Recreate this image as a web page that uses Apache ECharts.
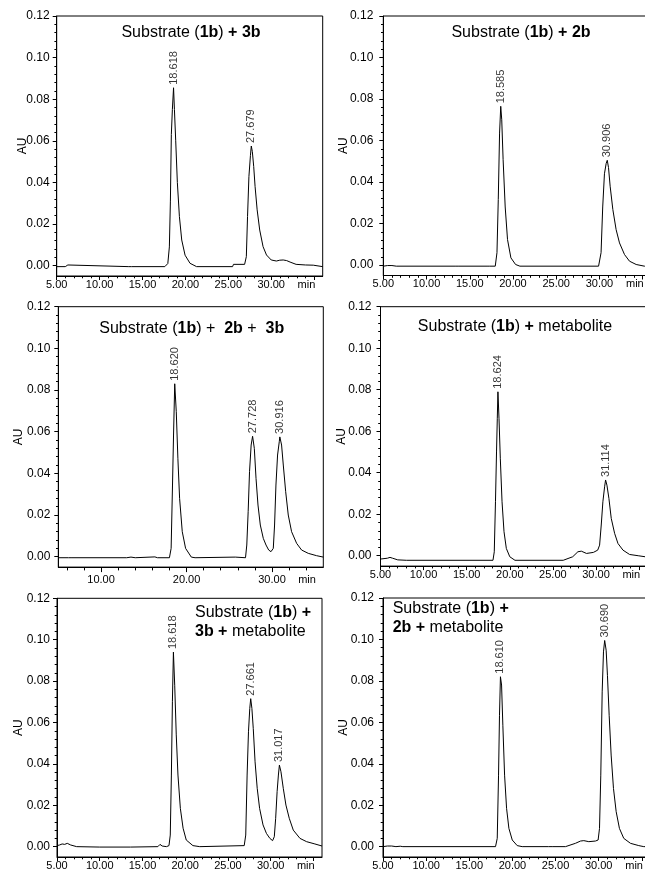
<!DOCTYPE html>
<html><head><meta charset="utf-8">
<script src="https://cdn.jsdelivr.net/npm/echarts@6/dist/echarts.min.js"></script>
<style>html,body{margin:0;padding:0;background:#fff}#c{width:645px;height:876px}</style>
</head><body><div id="c"></div>
<script>
// ---------- data (retention time in min, absorbance in AU) ----------
const p1_time = [5.0,6.0,6.3,6.5,13.4,13.55,13.7,17.6,17.95,18.13,18.25,18.36,18.48,18.618,18.72,18.87,19.06,19.3,19.57,19.96,20.54,21.3,25.5,25.6,26.9,27.1,27.24,27.4,27.58,27.679,27.8,27.96,28.12,28.36,28.66,29.05,29.45,30.0,30.6,31.0,31.4,31.8,32.2,32.9,34.0,34.9,35.1,36.0];
const p1_au   = [-0.0005,-0.0005,0.0003,-0.0005,-0.0005,0.0001,-0.0005,-0.0005,0.001,0.009,0.031,0.063,0.075,0.0855,0.075,0.060,0.040,0.0236,0.0123,0.005,0.0011,-0.0005,-0.0005,0.0006,0.0006,0.0043,0.0236,0.0428,0.0530,0.0575,0.0548,0.0476,0.038,0.0268,0.0171,0.0091,0.0051,0.0027,0.0022,0.0026,0.0027,0.0024,0.0017,0.0006,0.0003,0.0002,-0.0005,-0.0005];
const p1_peaks = [18.618, 27.679];

const p2_time = [5.0,5.5,6.0,6.5,13.4,13.5,13.65,17.0,17.1,17.25,17.95,18.15,18.3,18.45,18.585,18.7,18.86,19.1,19.37,19.76,20.3,20.8,29.9,30.0,30.19,30.38,30.58,30.78,30.906,31.05,31.24,31.55,31.93,32.32,32.9,33.48,34.25,35.2,36.0];
const p2_au   = [-0.0005,-0.0002,-0.0002,-0.0005,-0.0005,0.0001,-0.0005,-0.0005,0.0001,-0.0005,-0.0005,0.006,0.0316,0.0636,0.0765,0.070,0.0508,0.028,0.0123,0.0035,0.0003,-0.0005,-0.0005,0.0003,0.006,0.028,0.044,0.049,0.0505,0.047,0.038,0.0268,0.0171,0.0107,0.0051,0.0019,0.0003,-0.0005,-0.0005];
const p2_peaks = [18.585, 30.906];

const p3_time = [5.0,6.2,6.4,6.6,13.0,13.5,14.0,16.3,16.6,18.0,18.2,18.36,18.48,18.62,18.8,18.99,19.19,19.5,19.89,20.56,21.0,25.7,25.9,26.9,27.05,27.21,27.37,27.56,27.728,27.93,28.13,28.36,28.63,28.98,29.3,29.61,29.88,30.15,30.3,30.46,30.65,30.85,30.916,31.12,31.32,31.6,31.9,32.29,32.88,33.46,34.24,35.2,36.0];
const p3_au   = [-0.0005,-0.0005,0.0003,-0.0005,-0.0005,-0.0002,-0.0005,-0.0001,-0.0005,-0.0005,0.004,0.0344,0.0584,0.083,0.0696,0.047,0.028,0.012,0.004,-0.0002,-0.0005,-0.0002,-0.0005,-0.0005,0.0056,0.0216,0.0408,0.0536,0.0578,0.052,0.0376,0.0248,0.0152,0.0088,0.0056,0.0032,0.0024,0.004,0.0152,0.0344,0.0488,0.0552,0.0575,0.0536,0.044,0.0312,0.020,0.012,0.0064,0.0032,0.0016,0.0005,-0.0002];
const p3_peaks = [18.620, 27.728, 30.916];

const p4_time = [5.0,5.8,6.1,6.4,7.0,8.0,18.05,18.2,18.34,18.46,18.55,18.624,18.75,18.9,19.1,19.33,19.6,20.0,20.6,26.2,27.3,27.9,28.3,28.9,29.7,30.2,30.42,30.61,30.8,31.0,31.114,31.27,31.5,31.77,32.16,32.55,33.13,33.9,34.9,35.7,36.0];
const p4_au   = [-0.0016,-0.0012,-0.0008,-0.0012,-0.0020,-0.0022,-0.0022,0.0019,0.026,0.050,0.066,0.079,0.066,0.047,0.026,0.0116,0.0035,-0.0005,-0.0022,-0.0022,-0.0005,0.0019,0.0022,0.0011,0.0016,0.0027,0.0051,0.0148,0.026,0.0332,0.0365,0.034,0.0276,0.018,0.0108,0.0059,0.0027,0.0006,0.0,-0.0005,-0.0005];
const p4_peaks = [18.624, 31.114];

const p5_time = [5.0,5.3,5.6,5.9,6.2,6.4,6.6,7.3,10.0,13.6,16.8,17.05,17.3,17.8,18.1,18.25,18.38,18.5,18.618,18.77,18.95,19.15,19.43,19.75,20.12,20.9,21.7,26.9,27.08,27.24,27.4,27.55,27.661,27.8,27.96,28.17,28.42,28.7,29.1,29.5,29.9,30.22,30.42,30.58,30.75,30.9,31.017,31.2,31.47,31.78,32.17,32.64,33.42,34.2,35.17,36.0];
const p5_au   = [0.0005,0.0008,0.0013,0.0011,0.0016,0.0018,0.0008,0.0,-0.0002,-0.0002,0.0,0.0011,0.0003,0.0,0.0005,0.0056,0.0346,0.070,0.094,0.078,0.054,0.0346,0.0185,0.0089,0.0032,0.0005,0.0,0.0005,0.0056,0.0346,0.0555,0.0668,0.0715,0.0668,0.057,0.041,0.0282,0.0185,0.0105,0.0064,0.004,0.0029,0.0048,0.0137,0.0266,0.0346,0.0394,0.0362,0.0282,0.0201,0.0137,0.008,0.004,0.0024,0.0013,0.0003];
const p5_peaks = [18.618, 27.661, 31.017];

const p6_time = [5.0,5.5,6.0,6.5,7.0,7.3,18.04,18.24,18.39,18.5,18.61,18.74,18.89,19.09,19.32,19.59,19.98,20.55,21.13,24.2,24.4,24.6,26.15,26.34,27.3,27.89,28.27,28.85,29.62,29.93,30.09,30.24,30.4,30.55,30.69,30.86,31.01,31.21,31.44,31.71,32.02,32.4,32.9,33.68,34.64,35.22,36.0];
const p6_au   = [0.0,0.0003,0.0003,0.0,0.0002,0.0,0.0,0.004,0.0345,0.0634,0.082,0.078,0.0586,0.0345,0.0185,0.0088,0.0032,0.0005,0.0,0.0,0.0008,0.0,0.0,0.0005,0.0016,0.0027,0.0029,0.0024,0.0027,0.0032,0.0088,0.0345,0.0747,0.094,0.0995,0.0948,0.0827,0.0634,0.0442,0.0281,0.0169,0.0088,0.004,0.0016,0.0005,0.0,0.0];
const p6_peaks = [18.610, 30.690];

// ---------- axis ticks / labels ----------
const yTickValues = [0, 0.02, 0.04, 0.06, 0.08, 0.10, 0.12];
const xTickValues = [5, 10, 15, 20, 25, 30, 35];
const xLabelValues = [5, 10, 15, 20, 25, 30];
const xTickValues3 = [10, 20, 30];
const unitPos = 34.1;
const unitLabel = 'min';
const yName = 'AU';

// ---------- titles ----------
const p1_title = '{n|Substrate (}{b|1b}{n|) }{b|+ 3b}';
const p2_title = '{n|Substrate (}{b|1b}{n|) }{b|+ 2b}';
const p3_title = '{n|Substrate (}{b|1b}{n|) +  }{b|2b}{n| +  }{b|3b}';
const p4_title = '{n|Substrate (}{b|1b}{n|) }{b|+}{n| metabolite}';
const p5_title = '{n|Substrate (}{b|1b}{n|) }{b|+}\n{b|3b + }{n|metabolite}';
const p6_title = '{n|Substrate (}{b|1b}{n|) }{b|+}\n{b|2b + }{n|metabolite}';

const FONT = '"Liberation Sans", Arial, Helvetica, sans-serif';
const X_MIN = 5, X_MAX = 36, Y_MIN = -0.005, Y_MAX = 0.12;

// minor ticks
const yMinor = [];
for (let k = 1; k < 30; k++) if (k % 5) yMinor.push(+(k * 0.004).toFixed(3));
const xMinor = [];
for (let k = 6; k <= 35; k++) if (k % 5) xMinor.push(k);
const xMinor3 = [];
for (let k = 6; k <= 34; k += 2) if (k % 10) xMinor3.push(k);

const panels = [
  {time:p1_time, au:p1_au, peaks:p1_peaks, title:p1_title,
   grid:{left:56.7, top:16, width:266, height:260}, yLm:7, gap:28.5, xLm:3,
   xMaj:xTickValues, xLab:xLabelValues.concat([unitPos]), xMin:xMinor, tl:4, tm:2.3,
   tb:{x:191, y:32.5, center:true}},
  {time:p2_time, au:p2_au, peaks:p2_peaks, title:p2_title,
   grid:{left:383.3, top:16, width:268, height:259.5}, yLm:10, gap:33.5, xLm:3,
   xMaj:xTickValues, xLab:xLabelValues.concat([unitPos]), xMin:xMinor, tl:4, tm:2.3,
   tb:{x:521, y:32.5, center:true}},
  {time:p3_time, au:p3_au, peaks:p3_peaks, title:p3_title,
   grid:{left:58.3, top:306.7, width:265, height:260.4}, yLm:8, gap:33.5, xLm:7,
   xMaj:xTickValues3, xLab:xTickValues3.concat([unitPos]), xMin:xMinor3, tl:5, tm:3.3,
   tb:{x:191.7, y:328.5, center:true}},
  {time:p4_time, au:p4_au, peaks:p4_peaks, title:p4_title,
   grid:{left:380.5, top:306.7, width:267.2, height:259.4}, yLm:9, gap:33.3, xLm:3,
   xMaj:xTickValues, xLab:xLabelValues.concat([unitPos]), xMin:xMinor, tl:4, tm:2.3,
   tb:{x:515, y:327, center:true}},
  {time:p5_time, au:p5_au, peaks:p5_peaks, title:p5_title,
   grid:{left:57, top:598.3, width:265, height:258.7}, yLm:7, gap:32, xLm:3,
   xMaj:xTickValues, xLab:xLabelValues.concat([unitPos]), xMin:xMinor, tl:4, tm:2.3,
   tb:{x:195, y:622, center:false}},
  {time:p6_time, au:p6_au, peaks:p6_peaks, title:p6_title,
   grid:{left:383, top:598, width:267.5, height:259}, yLm:9, gap:33.2, xLm:3,
   xMaj:xTickValues, xLab:xLabelValues.concat([unitPos]), xMin:xMinor, tl:4, tm:2.3,
   tb:{x:392.7, y:618.3, center:false}}
];

const grids = [], xAxes = [], yAxes = [], series = [], graphics = [];
const black = '#000';

panels.forEach((p, i) => {
  grids.push(Object.assign({show:true, borderColor:black, borderWidth:1, backgroundColor:'transparent',
    containLabel:false, outerBoundsMode:'none'}, p.grid));

  xAxes.push({type:'value', gridIndex:i, position:'bottom', min:X_MIN, max:X_MAX,
    axisLine:{show:true, onZero:false, lineStyle:{color:black, width:1}},
    splitLine:{show:false},
    axisTick:{show:true, inside:false, length:p.tl, customValues:p.xMaj, lineStyle:{color:black, width:1}},
    axisLabel:{show:true, customValues:p.xLab, margin:p.xLm, color:black, fontSize:11, fontFamily:FONT,
      formatter:v => (v > 33 && v < 35) ? unitLabel : v.toFixed(2)}});
  xAxes.push({type:'value', gridIndex:i, position:'bottom', min:X_MIN, max:X_MAX,
    axisLine:{show:false, onZero:false}, splitLine:{show:false},
    axisTick:{show:true, inside:false, length:p.tm, customValues:p.xMin, lineStyle:{color:black, width:1}},
    axisLabel:{show:false}});

  yAxes.push({type:'value', gridIndex:i, position:'left', min:Y_MIN, max:Y_MAX,
    name:yName, nameLocation:'middle', nameGap:p.gap, nameRotate:90, nameMoveOverlap:false,
    nameTextStyle:{color:black, fontSize:12, fontFamily:FONT},
    axisLine:{show:true, onZero:false, lineStyle:{color:black, width:1}},
    splitLine:{show:false},
    axisTick:{show:true, inside:false, length:4, customValues:yTickValues, lineStyle:{color:black, width:1}},
    axisLabel:{show:true, customValues:yTickValues, margin:p.yLm, color:black, fontSize:12, fontFamily:FONT,
      formatter:v => v.toFixed(2)}});
  yAxes.push({type:'value', gridIndex:i, position:'left', min:Y_MIN, max:Y_MAX,
    axisLine:{show:false, onZero:false}, splitLine:{show:false},
    axisTick:{show:true, inside:false, length:2.3, customValues:yMinor, lineStyle:{color:black, width:1}},
    axisLabel:{show:false}});

  series.push({type:'line', xAxisIndex:2*i, yAxisIndex:2*i,
    data:p.time.map((t, k) => [t, p.au[k]]),
    showSymbol:false, symbol:'none', silent:true, clip:true,
    lineStyle:{color:black, width:1}});

  series.push({type:'scatter', xAxisIndex:2*i, yAxisIndex:2*i, silent:true,
    symbolSize:0,
    data:p.peaks.map(pt => [pt, p.au[p.time.indexOf(pt)]]),
    label:{show:true, position:'top', distance:3, rotate:90, align:'left', verticalAlign:'middle',
      color:black, fontSize:11, fontFamily:FONT, formatter:d => d.value[0].toFixed(3)}});

  graphics.push({type:'text', x:p.tb.x, y:p.tb.y, silent:true,
    style:{text:p.title, align:p.tb.center ? 'center' : 'left', verticalAlign:'middle',
      fill:black,
      rich:{n:{fontSize:16, fontFamily:FONT, fill:black, lineHeight:19.5},
            b:{fontSize:16, fontFamily:FONT, fontWeight:'bold', fill:black, lineHeight:19.5}}}});
});

const chart = echarts.init(document.getElementById('c'), null, {renderer:'canvas'});
chart.setOption({
  animation:false,
  backgroundColor:'#fff',
  grid:grids, xAxis:xAxes, yAxis:yAxes, series:series, graphic:graphics
});
</script>
</body></html>
